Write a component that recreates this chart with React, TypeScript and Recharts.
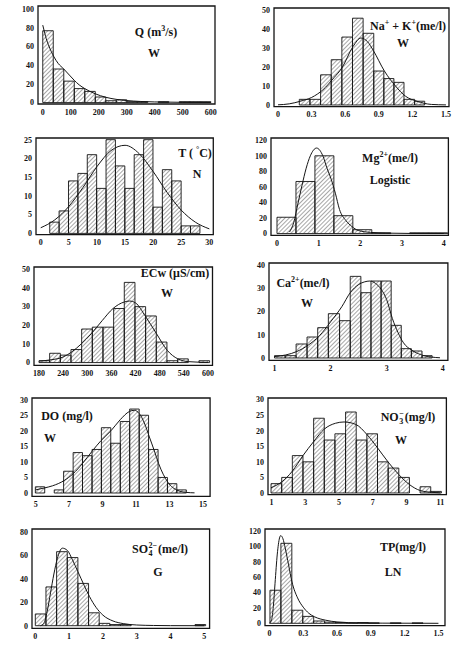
import React from 'react';
import { ComposedChart, XAxis, YAxis, Line, ReferenceArea } from 'recharts';

// ---- Q (m3/s), Weibull ----
const qEdges = [0, 37.5, 75, 112.5, 150, 187.5, 225, 262.5, 300, 337.5, 375, 412.5, 450, 487.5, 525, 562.5, 600];
const qCounts = [77, 36, 23, 15, 12, 6, 2, 3, 1, 1, 0, 1, 0, 1, 1, 1];
const qCurveX = [0, 5, 10, 20, 30, 40, 55, 75, 95, 112, 130, 150, 187, 225, 262, 300, 350, 400, 500, 600];
const qCurveY = [83, 77, 71, 62, 55, 49, 42, 36, 29.5, 24, 19, 15, 9.5, 5.7, 3.5, 2.2, 1.2, 0.7, 0.3, 0.1];
const qTicksX = [0, 100, 200, 300, 400, 500, 600];
const qTicksY = [0, 20, 40, 60, 80, 100];

// ---- Na+ + K+ (me/l), Weibull ----
const naEdges = [0.19, 0.285, 0.38, 0.475, 0.57, 0.665, 0.76, 0.855, 0.945, 1.035, 1.125, 1.22, 1.31];
const naCounts = [3, 3, 16, 24, 36, 46, 38, 18, 14, 12, 3, 2];
const naCurveX = [0, 0.1, 0.2, 0.3, 0.4, 0.5, 0.57, 0.67, 0.74, 0.8, 0.85, 0.95, 1.05, 1.14, 1.24, 1.37, 1.5];
const naCurveY = [0.1, 0.6, 2, 4, 8, 14.5, 19.6, 31, 35.5, 33.5, 29, 18, 10, 4.6, 2, 0.3, 0.05];
const naTicksX = [0, 0.3, 0.6, 0.9, 1.2, 1.5];
const naTicksY = [0, 10, 20, 30, 40, 50];

// ---- T (°C), Normal ----
const tEdges = [1.6, 3.27, 4.94, 6.61, 8.28, 9.95, 11.62, 13.29, 14.96, 16.63, 18.3, 19.97, 21.64, 23.31, 24.98, 26.65, 28.32];
const tCounts = [3, 6, 14, 16, 21, 12, 25, 18, 12, 21, 25, 7, 17, 14, 2, 2];
const tCurveX = [0, 2.5, 5, 7.5, 10, 12.5, 15, 17.5, 20, 22.5, 25, 27.5, 30];
const tCurveY = [1.5, 3.6, 7.2, 12.2, 17.8, 22.1, 23.5, 21.3, 16.5, 10.9, 6.2, 3, 1.2];
const tTicksX = [0, 5, 10, 15, 20, 25, 30];
const tTicksY = [0, 5, 10, 15, 20, 25];

// ---- Mg2+ (me/l), Logistic ----
const mgEdges = [0, 0.455, 0.91, 1.365, 1.82, 2.275, 2.73, 3.185, 3.64, 4.095];
const mgCounts = [21, 67, 100, 23, 5, 1, 0, 1, 1];
const mgCurveX = [0.3, 0.4, 0.5, 0.6, 0.7, 0.8, 0.95, 1.1, 1.2, 1.3, 1.4, 1.5, 1.65, 1.8, 1.95, 2.25, 2.6, 3.2, 4.0];
const mgCurveY = [2, 14, 38, 62, 84, 100, 110, 100, 84, 70, 52, 31, 17, 9, 4, 1.5, 0.6, 0.2, 0.1];
const mgTicksX = [0, 1, 2, 3, 4];
const mgTicksY = [0, 20, 40, 60, 80, 100, 120];

// ---- ECw (µS/cm), Weibull ----
const ecEdges = [180, 206.5, 233, 259.5, 286, 312.5, 339, 365.5, 392, 418.5, 445, 471.5, 498, 524.5, 551, 577.5, 604];
const ecCounts = [1, 5, 4, 7, 18, 19, 19, 29, 43, 30, 25, 11, 1, 2, 0, 1];
const ecCurveX = [180, 210, 240, 260, 285, 310, 337, 364, 392, 405, 420, 444, 472, 499, 525, 552, 600];
const ecCurveY = [0.8, 1.5, 3, 5.5, 10, 15.5, 22.5, 29, 32.5, 33, 32, 25, 15.5, 6.5, 2, 0.5, 0.1];
const ecTicksX = [180, 240, 300, 360, 420, 480, 540, 600];
const ecTicksY = [0, 10, 20, 30, 40, 50];

// ---- Ca2+ (me/l), Weibull ----
const caEdges = [1.0, 1.19, 1.385, 1.58, 1.77, 1.96, 2.16, 2.35, 2.54, 2.72, 2.9, 3.08, 3.26, 3.44, 3.63, 3.81];
const caCounts = [1, 1, 6, 9, 13, 19, 16, 35, 28, 33, 33, 14, 4, 3, 1];
const caCurveX = [1.0, 1.2, 1.4, 1.6, 1.8, 2.0, 2.2, 2.35, 2.5, 2.6, 2.7, 2.8, 2.9, 3.0, 3.1, 3.2, 3.3, 3.45, 3.6, 3.8, 3.95];
const caCurveY = [0.6, 1.3, 2.8, 5.5, 9.5, 15.5, 22, 28, 31.5, 32.6, 33, 32, 29.5, 25, 17, 11, 6.5, 3.3, 1.5, 0.4, 0.1];
const caTicksX = [1, 2, 3, 4];
const caTicksY = [0, 10, 20, 30, 40];

// ---- DO (mg/l), Weibull ----
const doEdges = [4.98, 5.54, 6.11, 6.67, 7.24, 7.8, 8.37, 8.93, 9.49, 10.06, 10.62, 11.19, 11.75, 12.32, 12.88, 13.44, 14.01];
const doCounts = [2, 0, 1, 7, 13, 12, 14, 21, 16, 23, 27, 25, 14, 5, 3, 1];
const doCurveX = [5.0, 5.5, 6.0, 6.7, 7.24, 7.8, 8.37, 8.9, 9.5, 10.06, 10.6, 10.9, 11.2, 11.5, 11.8, 12.1, 12.35, 12.9, 13.5, 14.0, 14.5];
const doCurveY = [1, 1.6, 2.3, 4, 6.2, 9.5, 13.4, 16.8, 20, 23.6, 26.2, 26.6, 25.5, 22.5, 18, 13.5, 9.5, 3.5, 0.8, 0.2, 0.05];
const doTicksX = [5, 7, 9, 11, 13, 15];
const doTicksY = [0, 5, 10, 15, 20, 25, 30];

// ---- NO3- (mg/l), Weibull ----
const noEdges = [0.98, 1.61, 2.24, 2.87, 3.5, 4.13, 4.76, 5.39, 6.02, 6.65, 7.28, 7.91, 8.54, 9.17, 9.8, 10.43, 11.06];
const noCounts = [3, 5, 12, 10, 24, 17, 19, 26, 17, 19, 10, 8, 5, 0, 2, 0.5];
const noCurveX = [0.98, 1.6, 2.24, 2.87, 3.5, 4.13, 4.8, 5.3, 6.0, 6.65, 7.28, 7.9, 8.54, 9.17, 9.8, 10.5, 11.0];
const noCurveY = [1.7, 3.5, 7, 12, 16.5, 20.5, 22.4, 22.8, 22, 18.8, 14.5, 10, 5.9, 2.7, 0.8, 0.2, 0.05];
const noTicksX = [1, 3, 5, 7, 9, 11];
const noTicksY = [0, 5, 10, 15, 20, 25, 30];

// ---- SO4 2- (me/l), Gamma ----
const soEdges = [0, 0.315, 0.63, 0.945, 1.26, 1.575, 1.89, 2.205, 2.52, 2.835, 3.15, 3.465, 3.78, 4.095, 4.41, 4.725, 5.04];
const soCounts = [10, 33, 63, 58, 36, 11, 2, 1, 1, 0, 0, 0, 0, 0, 0, 1];
const soCurveX = [0.15, 0.25, 0.35, 0.45, 0.55, 0.65, 0.8, 0.95, 1.1, 1.26, 1.45, 1.6, 1.8, 2.0, 2.3, 2.6, 3.0, 3.5, 4.0, 5.0];
const soCurveY = [0, 2, 12, 28, 44, 57, 66, 64, 56, 46, 34, 25, 15.5, 9, 4, 1.8, 0.6, 0.2, 0.05, 0];
const soTicksX = [0, 1, 2, 3, 4, 5];
const soTicksY = [0, 20, 40, 60, 80];

// ---- TP (mg/l), Lognormal ----
const tpEdges = [0.005, 0.102, 0.199, 0.296, 0.393, 0.49, 0.587, 0.684, 0.781, 0.878, 0.975, 1.072, 1.169, 1.266, 1.363, 1.46];
const tpCounts = [43, 104, 17, 9, 3, 1.5, 1, 0.5, 1, 0.5, 0, 0.5, 0, 0.5, 0];
const tpCurveX = [0, 0.02, 0.035, 0.05, 0.07, 0.09, 0.1, 0.12, 0.14, 0.17, 0.2, 0.25, 0.3, 0.35, 0.4, 0.5, 0.6, 0.8, 1.0, 1.5];
const tpCurveY = [0, 5, 22, 52, 90, 111, 114, 110, 98, 76, 54, 33, 21, 13, 8.5, 4, 1.8, 0.5, 0.2, 0];
const tpTicksX = [0, 0.3, 0.6, 0.9, 1.2, 1.5];
const tpTicksY = [0, 20, 40, 60, 80, 100, 120];

const INK = '#141414';
const SERIF = '"Liberation Serif", "Times New Roman", serif';
const YW = 30;
const XH = 18;
const PAD = 4;
const HATCH = 3;

type Frame = { l: number; t: number; r: number; b: number };
type PanelSpec = {
  id: string;
  edges: number[];
  counts: number[];
  curveX: number[];
  curveY: number[];
  ticksX: number[];
  ticksY: number[];
  xDomain: [number, number];
  yDomain: [number, number];
  frame: Frame;
  title: React.ReactNode;
  titleAt: [number, number];
  dist: string;
  distAt: [number, number];
};

const Stack = ({ top, bottom }: { top: string; bottom: string }) => (
  <span
    style={{
      display: 'inline-flex',
      flexDirection: 'column',
      alignItems: 'flex-start',
      fontSize: 8,
      lineHeight: 1,
      verticalAlign: '5px',
      margin: '0 1px 0 0.5px',
    }}
  >
    <span>{top}</span>
    <span>{bottom}</span>
  </span>
);

const Sup = ({ children }: { children: React.ReactNode }) => (
  <sup style={{ fontSize: 8, lineHeight: 0, verticalAlign: '5px' }}>{children}</sup>
);

const panels: PanelSpec[] = [
  {
    id: 'q', edges: qEdges, counts: qCounts, curveX: qCurveX, curveY: qCurveY,
    ticksX: qTicksX, ticksY: qTicksY, xDomain: [-17, 615], yDomain: [-1.5, 103.5],
    frame: { l: 38, t: 6, r: 215, b: 104 },
    title: <>Q (m<Sup>3</Sup>/s)</>, titleAt: [156, 32], dist: 'W', distAt: [154, 53],
  },
  {
    id: 'na', edges: naEdges, counts: naCounts, curveX: naCurveX, curveY: naCurveY,
    ticksX: naTicksX, ticksY: naTicksY, xDomain: [-0.036, 1.527], yDomain: [-0.9, 51.4],
    frame: { l: 274, t: 8.3, r: 449, b: 107 },
    title: <>Na<Sup>+</Sup> + K<Sup>+</Sup>(me/l)</>, titleAt: [408, 26], dist: 'W', distAt: [403, 43],
  },
  {
    id: 't', edges: tEdges, counts: tCounts, curveX: tCurveX, curveY: tCurveY,
    ticksX: tTicksX, ticksY: tTicksY, xDomain: [-0.84, 30.7], yDomain: [-0.35, 25.45],
    frame: { l: 36, t: 138.3, r: 213.3, b: 235 },
    title: <>T ( <Sup>°</Sup>C)</>, titleAt: [195, 153], dist: 'N', distAt: [197, 174],
  },
  {
    id: 'mg', edges: mgEdges, counts: mgCounts, curveX: mgCurveX, curveY: mgCurveY,
    ticksX: mgTicksX, ticksY: mgTicksY, xDomain: [-0.144, 4.113], yDomain: [-2.2, 122.9],
    frame: { l: 271.3, t: 137.7, r: 448.7, b: 235 },
    title: <>Mg<Sup>2+</Sup>(me/l)</>, titleAt: [390, 158], dist: 'Logistic', distAt: [390, 180],
  },
  {
    id: 'ec', edges: ecEdges, counts: ecCounts, curveX: ecCurveX, curveY: ecCurveY,
    ticksX: ecTicksX, ticksY: ecTicksY, xDomain: [167.6, 611.2], yDomain: [-1.45, 51.25],
    frame: { l: 34.3, t: 266.7, r: 212.8, b: 365 },
    title: <>ECw (μS/cm)</>, titleAt: [175, 273], dist: 'W', distAt: [167, 293],
  },
  {
    id: 'ca', edges: caEdges, counts: caCounts, curveX: caCurveX, curveY: caCurveY,
    ticksX: caTicksX, ticksY: caTicksY, xDomain: [0.902, 4.091], yDomain: [-1.03, 40.73],
    frame: { l: 268.5, t: 263.3, r: 447.4, b: 360.7 },
    title: <>Ca<Sup>2+</Sup>(me/l)</>, titleAt: [303, 283], dist: 'W', distAt: [307, 303],
  },
  {
    id: 'do', edges: doEdges, counts: doCounts, curveX: doCurveX, curveY: doCurveY,
    ticksX: doTicksX, ticksY: doTicksY, xDomain: [4.78, 15.43], yDomain: [-1.09, 30.55],
    frame: { l: 32.3, t: 398.3, r: 210.4, b: 496.7 },
    title: <>DO (mg/l)</>, titleAt: [67, 416], dist: 'W', distAt: [50, 438],
  },
  {
    id: 'no', edges: noEdges, counts: noCounts, curveX: noCurveX, curveY: noCurveY,
    ticksX: noTicksX, ticksY: noTicksY, xDomain: [0.8, 11.356], yDomain: [-0.55, 30.5],
    frame: { l: 268.3, t: 398.3, r: 446.7, b: 495 },
    title: <>NO<Stack top="−" bottom="3" />(mg/l)</>, titleAt: [408, 418], dist: 'W', distAt: [401, 440],
  },
  {
    id: 'so', edges: soEdges, counts: soCounts, curveX: soCurveX, curveY: soCurveY,
    ticksX: soTicksX, ticksY: soTicksY, xDomain: [-0.098, 5.156], yDomain: [-2.2, 82.3],
    frame: { l: 31.7, t: 529, r: 209.3, b: 628.3 },
    title: <>SO<Stack top="2−" bottom="4" />(me/l)</>, titleAt: [160, 550], dist: 'G', distAt: [158, 572],
  },
  {
    id: 'tp', edges: tpEdges, counts: tpCounts, curveX: tpCurveX, curveY: tpCurveY,
    ticksX: tpTicksX, ticksY: tpTicksY, xDomain: [-0.039, 1.558], yDomain: [-3.1, 122.6],
    frame: { l: 265.3, t: 529, r: 445.3, b: 625.7 },
    title: <>TP(mg/l)</>, titleAt: [403, 547], dist: 'LN', distAt: [393, 572],
  },
];

const tickStyle = { fontSize: 8, fontWeight: 700, fontFamily: SERIF, fill: INK };

function TextAt({ at, children }: { at: [number, number]; children: React.ReactNode }) {
  return (
    <div
      style={{
        position: 'absolute',
        left: at[0],
        top: at[1],
        transform: 'translate(-50%, -50%)',
        fontFamily: SERIF,
        fontWeight: 700,
        fontSize: 12,
        lineHeight: 1,
        whiteSpace: 'nowrap',
        color: INK,
      }}
    >
      {children}
    </div>
  );
}

function Histogram({ p }: { p: PanelSpec }) {
  const w = p.frame.r - p.frame.l;
  const h = p.frame.b - p.frame.t;
  const curve = p.curveX.map((x, i) => ({ x, y: p.curveY[i] }));
  const bins = p.counts
    .map((c, i) => ({ x1: p.edges[i], x2: p.edges[i + 1], c }))
    .filter((b) => b.c > 0);
  const hatchId = `hatch-${p.id}`;
  return (
    <div style={{ position: 'absolute', left: p.frame.l - YW, top: p.frame.t - PAD }}>
      <ComposedChart
        width={w + YW + PAD}
        height={h + PAD + XH}
        data={curve}
        margin={{ top: PAD, right: PAD, bottom: 0, left: 0 }}
      >
        <defs>
          <pattern
            id={hatchId}
            width={HATCH}
            height={HATCH}
            patternUnits="userSpaceOnUse"
            patternTransform="rotate(45)"
          >
            <line x1={0} y1={0} x2={0} y2={HATCH} stroke={INK} strokeWidth={0.75} />
          </pattern>
        </defs>
        <XAxis
          dataKey="x"
          type="number"
          domain={p.xDomain}
          ticks={p.ticksX}
          allowDataOverflow
          interval={0}
          height={XH}
          axisLine={false}
          tickLine={false}
          tickSize={3}
          tickMargin={2}
          tick={tickStyle}
        />
        <YAxis
          type="number"
          domain={p.yDomain}
          ticks={p.ticksY}
          allowDataOverflow
          interval={0}
          width={YW}
          axisLine={false}
          tickLine={false}
          tickSize={2}
          tickMargin={2}
          tick={tickStyle}
        />
        {bins.map((b) => (
          <ReferenceArea
            key={`${p.id}-${b.x1}`}
            x1={b.x1}
            x2={b.x2}
            y1={0}
            y2={b.c}
            fill={`url(#${hatchId})`}
            fillOpacity={1}
            stroke={INK}
            strokeWidth={0.9}
            ifOverflow="visible"
          />
        ))}
        <ReferenceArea
          x1={p.xDomain[0]}
          x2={p.xDomain[1]}
          y1={p.yDomain[0]}
          y2={p.yDomain[1]}
          fill="none"
          fillOpacity={0}
          stroke={INK}
          strokeWidth={1.3}
          ifOverflow="visible"
        />
        <Line
          dataKey="y"
          type="monotone"
          stroke={INK}
          strokeWidth={1}
          dot={false}
          activeDot={false}
          isAnimationActive={false}
        />
      </ComposedChart>
    </div>
  );
}

export default function App() {
  return (
    <div
      style={{
        position: 'absolute',
        left: 0,
        top: 0,
        width: 458,
        height: 646,
        background: '#fff',
        overflow: 'hidden',
      }}
    >
      {panels.map((p) => (
        <React.Fragment key={p.id}>
          <Histogram p={p} />
          <TextAt at={p.titleAt}>{p.title}</TextAt>
          <TextAt at={p.distAt}>{p.dist}</TextAt>
        </React.Fragment>
      ))}
    </div>
  );
}
